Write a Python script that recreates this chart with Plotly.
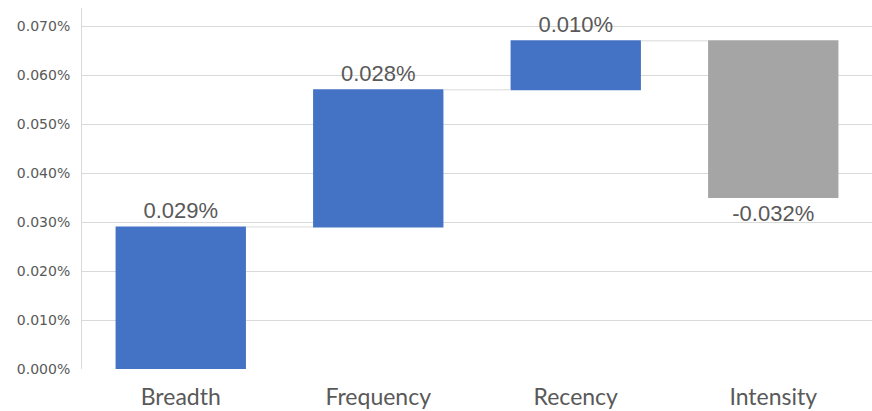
import plotly.graph_objects as go

# Contribution of each driver (as fractions; 0.00029 = 0.029%)
categories = ["Breadth", "Frequency", "Recency", "Intensity"]
contributions = [0.00029, 0.00028, 0.00010, -0.00032]
measures = ["relative", "relative", "relative", "relative"]

# Y axis ticks
tick_values = [0.0, 0.0001, 0.0002, 0.0003, 0.0004, 0.0005, 0.0006, 0.0007]

BLUE = "#4472C4"
GRAY = "#A5A5A5"
TEXT = "#595959"
GRID = "#D9D9D9"

fig = go.Figure(
    go.Waterfall(
        x=categories,
        y=contributions,
        measure=measures,
        increasing=dict(marker=dict(color=BLUE)),
        decreasing=dict(marker=dict(color=GRAY)),
        connector=dict(line=dict(color=GRID, width=1)),
        texttemplate="%{delta:.3%}",
        textposition="outside",
        textfont=dict(family="Liberation Sans, Arial, sans-serif", size=22, color=TEXT),
        cliponaxis=False,
        hoverinfo="skip",
    )
)

fig.update_layout(
    width=872,
    height=411,
    margin=dict(l=82, r=0, t=8, b=42),
    paper_bgcolor="white",
    plot_bgcolor="white",
    showlegend=False,
    waterfallgap=0.34,
    xaxis=dict(
        range=[-0.5, 3.5],
        showgrid=False,
        showline=False,
        tickfont=dict(family="Lato, sans-serif", size=23, color=TEXT),
        ticklabelstandoff=12,
    ),
    yaxis=dict(
        range=[0, 0.000737],
        tickvals=tick_values,
        tickformat=".3%",
        showgrid=True,
        gridcolor=GRID,
        gridwidth=1,
        zeroline=False,
        showline=True,
        linecolor=GRID,
        linewidth=1,
        tickfont=dict(family="DejaVu Sans, sans-serif", size=14, color=TEXT),
        ticklabelstandoff=8,
    ),
)

fig.write_html("out.html")
